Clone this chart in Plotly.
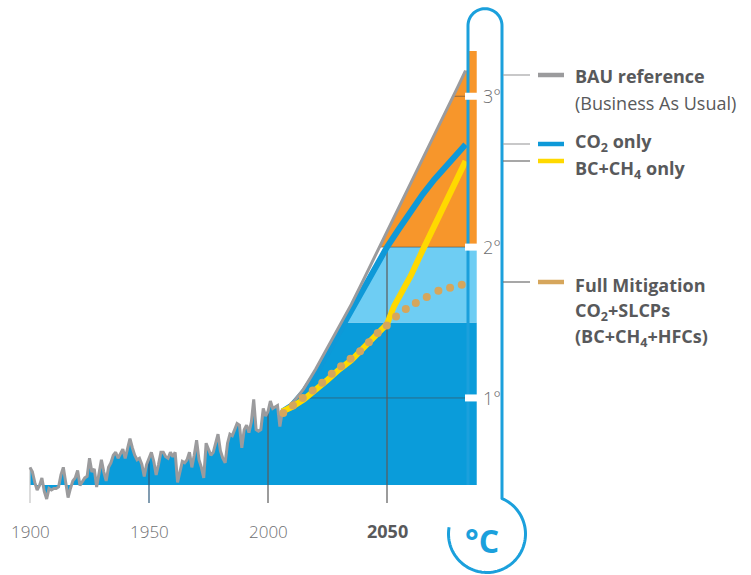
import numpy as np
import plotly.graph_objects as go

# ---------------- data ----------------
HIST_YEARS = list(range(1900, 2006))
HIST_TEMP = [
    0.54, 0.51, 0.44, 0.39, 0.42, 0.47, 0.38, 0.33, 0.40, 0.39,
    0.40, 0.40, 0.41, 0.49, 0.54, 0.45, 0.34, 0.40, 0.45, 0.47,
    0.52, 0.42, 0.45, 0.47, 0.48, 0.60, 0.51, 0.53, 0.41, 0.51,
    0.59, 0.51, 0.45, 0.54, 0.57, 0.62, 0.64, 0.60, 0.63, 0.66,
    0.60, 0.66, 0.73, 0.67, 0.62, 0.59, 0.60, 0.56, 0.48, 0.56,
    0.60, 0.64, 0.58, 0.49, 0.56, 0.64, 0.64, 0.61, 0.60, 0.64,
    0.61, 0.64, 0.44, 0.51, 0.58, 0.57, 0.59, 0.64, 0.54, 0.62,
    0.72, 0.59, 0.54, 0.47, 0.70, 0.66, 0.62, 0.64, 0.70, 0.76,
    0.65, 0.60, 0.57, 0.70, 0.76, 0.75, 0.79, 0.83, 0.82, 0.67,
    0.79, 0.82, 0.77, 0.84, 0.99, 0.79, 0.78, 0.79, 0.93, 0.88,
    0.91, 0.98, 0.93, 0.94, 0.95, 0.81,
]

PROJ_YEARS = [2006, 2010, 2015, 2020, 2025, 2030, 2035, 2040, 2045,
              2050, 2055, 2060, 2065, 2070, 2075, 2080, 2083]
BAU = [0.91, 0.96, 1.06, 1.19, 1.33, 1.47, 1.62, 1.78, 1.94,
       2.10, 2.26, 2.42, 2.59, 2.75, 2.91, 3.07, 3.17]
CO2_ONLY = [0.91, 0.95, 1.04, 1.16, 1.30, 1.44, 1.58, 1.73, 1.87,
            2.00, 2.12, 2.24, 2.35, 2.45, 2.54, 2.63, 2.68]

BC_YEARS = [2006, 2010, 2015, 2020, 2025, 2030, 2035, 2040, 2045,
            2050, 2053, 2060, 2065, 2070, 2075, 2080, 2083]
BC_CH4_ONLY = [0.91, 0.94, 0.99, 1.05, 1.12, 1.19, 1.25, 1.33, 1.41,
               1.49, 1.61, 1.81, 1.98, 2.15, 2.31, 2.48, 2.57]

FULL_YEARS = [2006.4, 2010.5, 2014.6, 2018.8, 2022.8, 2026.8, 2030.7,
              2034.7, 2038.7, 2042.4, 2046.1, 2049.9, 2053.8, 2057.9,
              2062.1, 2066.7, 2071.6, 2076.5, 2081.4]
FULL_MITIGATION = [0.90, 0.95, 1.00, 1.05, 1.10, 1.16, 1.21, 1.26, 1.31,
                   1.37, 1.43, 1.48, 1.54, 1.59, 1.63, 1.67, 1.71, 1.73, 1.75]

BASELINE = 0.423      # bottom of the filled area
BAND_LOW = 1.5        # dark / light blue boundary
BAND_HIGH = 2.0       # light blue / orange boundary
COLUMN_TOP = 3.3      # top of the thermometer "liquid"
FILL_END = 2087.7     # right edge of the liquid column
TUBE_YEAR = 2084.0    # inner left wall of the thermometer

X_TICKS = [1900, 1950, 2000, 2050]
X_TICK_LABELS = ["1900", "1950", "2000", "2050"]
Y_TICKS = [1, 2, 3]
Y_TICK_LABELS = ["1°", "2°", "3°"]

LEGEND_LINES = [
    ["<b>BAU reference</b>", "(Business As Usual)"],
    ["<b>CO<sub>2</sub> only</b>"],
    ["<b>BC+CH<sub>4</sub> only</b>"],
    ["<b>Full Mitigation</b>", "<b>CO<sub>2</sub>+SLCPs</b>", "<b>(BC+CH<sub>4</sub>+HFCs)</b>"],
]

# ---------------- styling ----------------
W, H = 751, 575
C_DARK = "#0A9CDA"
C_LIGHT = "#6ECDF3"
C_ORANGE = "#F7962B"
C_GRAY = "#9B9B9D"
C_CO2 = "#0E99D8"
C_YELLOW = "#FFD900"
C_TAN = "#D6A65C"
C_TUBE = "#1BA0DC"
C_TEXT = "#6D6E71"
C_TEXT_DARK = "#58595B"
FONT = "Open Sans"


def yr(px):   # pixel column -> year (layout helper)
    return 1900 + (px - 30) / 2.38


def dg(py):   # pixel row -> degrees (layout helper)
    return 2 + (247.1 - py) / 150.85


def pp(px, py):  # pixel -> paper coords string
    return f"{px / W:.5f},{1 - py / H:.5f}"


fig = go.Figure()

# ---------- fills ----------
g = np.arange(PROJ_YEARS[0], PROJ_YEARS[-1] + 1e-9, 0.25)
bau_g = np.interp(g, PROJ_YEARS, BAU)
co2_g = np.interp(g, PROJ_YEARS, CO2_ONLY)

# dark blue: everything under history / BAU, clipped at BAND_LOW
dx = [1900] + HIST_YEARS + list(g) + [FILL_END, FILL_END, 1900]
dy = [BASELINE] + HIST_TEMP + list(np.minimum(bau_g, BAND_LOW)) + [BAND_LOW, BASELINE, BASELINE]
fig.add_trace(go.Scatter(x=dx, y=dy, fill="toself", fillcolor=C_DARK, mode="none",
                         hoverinfo="skip"))

# light blue: right of CO2 curve between BAND_LOW and BAND_HIGH
y15 = float(np.interp(BAND_LOW, CO2_ONLY, PROJ_YEARS))
y20 = float(np.interp(BAND_HIGH, CO2_ONLY, PROJ_YEARS))
m = (co2_g > BAND_LOW) & (co2_g < BAND_HIGH)
lx = [y15] + list(g[m]) + [y20, FILL_END, FILL_END]
ly = [BAND_LOW] + list(co2_g[m]) + [BAND_HIGH, BAND_HIGH, BAND_LOW]
fig.add_trace(go.Scatter(x=lx, y=ly, fill="toself", fillcolor=C_LIGHT, mode="none",
                         hoverinfo="skip"))

# orange: under BAU above BAND_HIGH, plus the thermometer column
b20 = float(np.interp(BAND_HIGH, BAU, PROJ_YEARS))
m2 = bau_g > BAND_HIGH
ox = [b20] + list(g[m2]) + [TUBE_YEAR, TUBE_YEAR, FILL_END, FILL_END]
oy = [BAND_HIGH] + list(bau_g[m2]) + [BAU[-1], COLUMN_TOP, COLUMN_TOP, BAND_HIGH]
fig.add_trace(go.Scatter(x=ox, y=oy, fill="toself", fillcolor=C_ORANGE, mode="none",
                         hoverinfo="skip"))

# ---------- thin horizontal guide lines at degree levels ----------
comb_years = np.array(HIST_YEARS + PROJ_YEARS, dtype=float)
comb_vals = np.array(HIST_TEMP + BAU, dtype=float)
for lev in Y_TICKS:
    mproj = comb_years >= 2000
    yy = comb_years[mproj]
    vv = comb_vals[mproj]
    start = float(np.interp(lev, vv, yy)) if lev > vv[0] else 2001
    fig.add_trace(go.Scatter(x=[start, TUBE_YEAR - 0.6], y=[lev, lev], mode="lines",
                             line=dict(color="rgba(70,70,70,0.55)", width=1),
                             hoverinfo="skip"))

# ---------- vertical year ticks ----------
tick_colors = ["#C4C4C4", "#2E5A7C", "#5A5A5A", "#5A5A5A"]
for yv, col in zip(X_TICKS, tick_colors):
    top = float(np.interp(yv, HIST_YEARS, HIST_TEMP)) if yv <= HIST_YEARS[-1] else BAND_HIGH
    fig.add_trace(go.Scatter(x=[yv, yv], y=[dg(503), top], mode="lines",
                             line=dict(color=col, width=1.2), hoverinfo="skip"))

# ---------- curves ----------
fig.add_trace(go.Scatter(x=PROJ_YEARS, y=CO2_ONLY, mode="lines",
                         line=dict(color=C_CO2, width=6),
                         hoverinfo="skip"))
fig.add_trace(go.Scatter(x=HIST_YEARS + PROJ_YEARS, y=HIST_TEMP + BAU, mode="lines",
                         line=dict(color=C_GRAY, width=3), hoverinfo="skip"))
fig.add_trace(go.Scatter(x=BC_YEARS, y=BC_CH4_ONLY, mode="lines",
                         line=dict(color=C_YELLOW, width=6),
                         hoverinfo="skip"))
fig.add_trace(go.Scatter(x=FULL_YEARS, y=FULL_MITIGATION, mode="markers",
                         marker=dict(color=C_TAN, size=8, line=dict(width=0)),
                         hoverinfo="skip"))

shapes = []
annotations = []

# ---------- thermometer outline ----------
pts = [(468, 485), (468, 25.7)]
for a in np.linspace(np.pi, 2 * np.pi, 40):
    pts.append((485 + 17 * np.cos(a), 25.7 + 17 * np.sin(a)))
pts.append((502, 498.5))
for a in np.linspace(np.deg2rad(-67), np.deg2rad(190), 90):
    pts.append((487 + 38.5 * np.cos(a), 534 + 38.5 * np.sin(a)))
path = "M " + " L ".join(pp(x, y) for x, y in pts)
shapes.append(dict(type="path", path=path, xref="paper", yref="paper",
                   line=dict(color=C_TUBE, width=3), layer="above"))

# white marks + degree labels
for v, lab in zip(Y_TICKS, Y_TICK_LABELS):
    shapes.append(dict(type="rect", xref="x", yref="y", x0=yr(465), x1=yr(480),
                       y0=v - 3.5 / 150.85, y1=v + 3.5 / 150.85,
                       fillcolor="white", line=dict(width=0), layer="above"))
    annotations.append(dict(x=yr(481), y=v, xref="x", yref="y", text=lab,
                            showarrow=False, xanchor="left", yanchor="middle",
                            font=dict(family=FONT, size=18, color=C_TEXT, weight=300)))

# °C in the bulb
annotations.append(dict(x=482 / W, y=1 - 540 / H, xref="paper", yref="paper",
                        text="<b>°C</b>", showarrow=False, xanchor="center",
                        yanchor="middle",
                        font=dict(family=FONT, size=32, color=C_TUBE)))

# x tick labels
for v, lab in zip(X_TICKS, X_TICK_LABELS):
    bold = v == 2050
    annotations.append(dict(x=v, y=dg(531), xref="x", yref="y",
                            text=f"<b>{lab}</b>" if bold else lab,
                            showarrow=False, xanchor="center", yanchor="middle",
                            font=dict(family=FONT, size=18 if bold else 17,
                                      color=C_TEXT_DARK if bold else C_TEXT,
                                      weight=700 if bold else 300)))

# ---------- legend ----------
legend_rows = [
    (75, "#A3A3A5", C_GRAY, [75, 102]),
    (144, "#A3A3A5", C_CO2, [142]),
    (161, "#6D6D6D", C_YELLOW, [168]),
    (282, "#6D6D6D", C_TAN, [284, 310, 336]),
]
for (cy, ccol, scol, text_ys), lines in zip(legend_rows, LEGEND_LINES):
    shapes.append(dict(type="line", xref="paper", yref="paper",
                       x0=503 / W, x1=530 / W, y0=1 - cy / H, y1=1 - cy / H,
                       line=dict(color=ccol, width=1.2)))
    shapes.append(dict(type="line", xref="paper", yref="paper",
                       x0=538 / W, x1=564 / W, y0=1 - cy / H, y1=1 - cy / H,
                       line=dict(color=scol, width=4.5)))
    for ty, txt in zip(text_ys, lines):
        annotations.append(dict(x=573 / W, y=1 - (ty + 1) / H, xref="paper", yref="paper",
                                text=txt, showarrow=False, xanchor="left",
                                yanchor="middle",
                                font=dict(family=FONT, size=18, color=C_TEXT_DARK)))

fig.update_layout(
    width=W, height=H, autosize=False,
    margin=dict(l=0, r=0, t=0, b=0, pad=0),
    paper_bgcolor="white", plot_bgcolor="white",
    showlegend=False,
    xaxis=dict(range=[yr(0), yr(W)], visible=False, fixedrange=True),
    yaxis=dict(range=[dg(H), dg(0)], visible=False, fixedrange=True),
    shapes=shapes, annotations=annotations,
)

fig.write_html("out.html", config={"displayModeBar": False},
               post_script="document.body.style.margin='0';")
